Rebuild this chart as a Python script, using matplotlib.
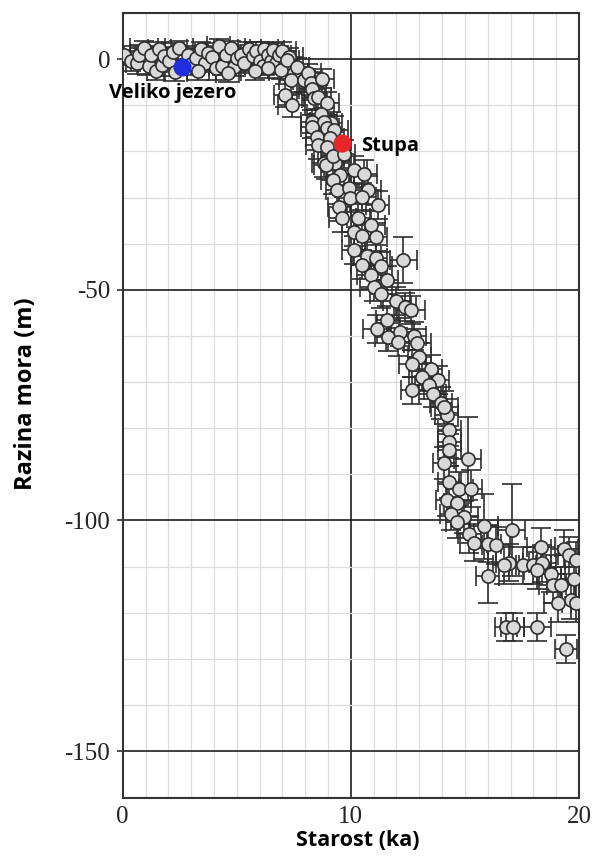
import numpy as np
import matplotlib; matplotlib.use("Agg"); import matplotlib.pyplot as plt

plt.rcParams["axes.unicode_minus"] = False

# sea-level index points (age in ka, relative sea level in m) with 1-sigma errors
age = [0.06, 0.35, 0.64, 0.72, 0.93, 1.15, 1.23, 1.45, 1.60, 1.74,
       1.81, 2.05, 2.20, 2.47, 2.84, 3.00, 3.20, 3.42, 3.60, 3.75,
       3.93, 4.08, 4.20, 4.37, 4.52, 4.74, 4.88, 5.00, 5.18, 5.32,
       5.54, 5.69, 5.85, 6.00, 6.13, 6.20, 6.35, 6.50, 6.57, 6.71,
       6.86, 7.00, 7.10, 7.30, 2.30, 4.60, 5.80, 3.30,
       6.35, 6.93, 7.22, 7.51, 7.37, 7.66, 7.95, 8.10, 8.25, 8.31,
       7.12, 7.41, 8.38, 8.74, 8.54, 8.97, 8.68, 9.12, 8.30, 8.81,
       8.31, 8.96, 9.27, 8.52, 9.10, 8.54, 8.97, 8.81, 9.32, 8.90,
       9.54, 10.12, 10.56, 9.20, 9.40, 9.91, 10.73, 9.98, 10.49, 11.17,
       9.49, 9.63, 10.33, 10.88, 10.12, 10.50, 11.10, 10.12, 10.70, 11.10,
       12.30, 11.32, 10.51, 10.88, 11.57, 11.00, 11.32, 12.00, 12.37, 12.63,
       11.60, 11.15, 12.17, 11.65, 12.78, 12.92, 12.05, 9.20, 9.70,
       13.00, 12.70, 13.50, 13.14, 13.80, 13.43, 12.70, 13.58, 14.20, 14.31,
       14.31, 14.31, 15.12, 14.09, 14.31, 14.75, 15.26, 14.23, 14.67, 14.39,
       14.97, 14.67, 15.84, 17.05, 15.19, 15.38, 16.00, 16.36, 16.95, 16.73,
       17.53, 17.97, 18.40, 18.18, 18.77, 16.00, 19.80, 18.84, 19.21, 19.65,
       19.07, 19.87, 18.33, 19.36, 19.58, 19.87, 16.80, 17.09, 18.18, 19.43,
       13.95, 14.10]
rsl = [0.8, -0.5, -0.8, 1.0, 2.4, -1.5, 0.9, -2.5, 2.2, -1.2,
       0.6, -0.3, 1.5, 2.5, 0.8, -1.0, 0.3, 2.2, -0.8, 1.4,
       0.5, -2.0, 2.8, -1.5, 0.8, 2.4, -1.6, 0.2, 1.0, -0.9,
       2.3, 0.6, 1.8, -0.5, -1.5, 2.2, 0.9, -0.3, 2.0, -0.8,
       0.8, 1.8, -1.2, 0.5, -2.8, -3.0, -2.5, -2.6,
       -2.0, -2.4, -0.2, -3.1, -4.6, -1.7, -4.6, -3.1, -5.2, -6.4,
       -7.8, -10.0, -8.5, -4.2, -8.2, -9.6, -11.8, -13.9, -13.6, -13.6,
       -14.7, -15.0, -15.4, -16.8, -17.2, -18.6, -19.0, -22.6, -22.6, -23.0,
       -25.1, -24.1, -24.8, -26.2, -28.4, -28.0, -28.4, -30.2, -29.8, -31.6,
       -32.0, -34.5, -34.5, -36.0, -37.4, -38.3, -38.5, -41.4, -42.7, -43.2,
       -43.6, -44.8, -44.7, -46.8, -47.9, -49.4, -51.0, -52.4, -53.8, -54.4,
       -56.6, -58.5, -59.2, -60.2, -60.0, -61.5, -61.3, -21.0, -20.5,
       -64.5, -66.0, -67.1, -68.9, -69.6, -70.7, -71.8, -72.5, -77.2, -80.3,
       -83.0, -84.8, -86.6, -87.6, -91.6, -93.1, -93.1, -95.6, -96.3, -98.5,
       -99.2, -100.3, -101.3, -102.0, -103.0, -104.8, -105.0, -105.4, -109.2, -109.7,
       -109.7, -109.7, -109.3, -110.8, -111.5, -112.0, -112.6, -114.0, -114.0, -117.3,
       -118.0, -118.0, -105.7, -106.1, -107.5, -108.6, -123.1, -123.1, -123.1, -127.8,
       -74.5, -75.5]
age_err = [0.5, 0.6, 0.5, 0.4, 0.6, 0.5, 0.6, 0.4, 0.5, 0.6,
           0.5, 0.6, 0.5, 0.6, 0.5, 0.6, 0.5, 0.6, 0.5, 0.6,
           0.5, 0.6, 0.5, 0.6, 0.5, 0.6, 0.5, 0.6, 0.5, 0.6,
           0.5, 0.6, 0.5, 0.6, 0.5, 0.6, 0.5, 0.6, 0.5, 0.6,
           0.5, 0.6, 0.5, 0.6, 0.5, 0.5, 0.6, 0.5,
           0.6, 0.5, 0.5, 0.6, 0.5, 0.5, 0.5, 0.6, 0.5, 0.6,
           0.5, 0.6, 0.5, 0.5, 0.6, 0.5, 0.6, 0.5, 0.5, 0.6,
           0.5, 0.5, 0.6, 0.5, 0.6, 0.5, 0.6, 0.5, 0.6, 0.5,
           0.6, 0.6, 0.6, 0.5, 0.5, 0.6, 0.6, 0.5, 0.6, 0.5,
           0.5, 0.6, 0.5, 0.6, 0.5, 0.6, 0.5, 0.5, 0.6, 0.5,
           0.6, 0.5, 0.5, 0.6, 0.5, 0.6, 0.5, 0.6, 0.5, 0.6,
           0.5, 0.6, 0.5, 0.6, 0.5, 0.6, 0.5, 0.5, 0.5,
           0.5, 0.6, 0.5, 0.6, 0.5, 0.6, 0.5, 0.6, 0.5, 0.5,
           0.5, 0.5, 0.6, 0.5, 0.5, 0.6, 0.5, 0.5, 0.6, 0.5,
           0.6, 0.5, 0.6, 0.6, 0.5, 0.6, 0.6, 0.6, 0.6, 0.5,
           0.6, 0.6, 0.6, 0.6, 0.6, 0.5, 0.6, 0.6, 0.6, 0.5,
           0.6, 0.6, 0.6, 0.6, 0.5, 0.5, 0.5, 0.5, 0.6, 0.5,
           0.5, 0.6]
rsl_err = [2.0, 2.0, 2.5, 2.0, 1.5, 2.0, 2.0, 2.0, 1.5, 2.5,
           2.0, 2.0, 2.0, 1.5, 2.0, 2.5, 2.0, 1.5, 2.0, 2.0,
           2.0, 2.5, 1.5, 2.0, 2.0, 1.5, 2.0, 2.0, 2.0, 2.0,
           1.5, 2.0, 2.0, 2.0, 2.0, 1.5, 2.0, 2.0, 1.5, 2.0,
           2.0, 2.0, 2.0, 2.0, 2.0, 2.0, 2.0, 2.0,
           2.0, 2.0, 2.0, 2.0, 2.5, 2.0, 2.5, 2.0, 2.5, 2.5,
           2.5, 2.5, 2.5, 2.0, 2.5, 2.5, 2.5, 2.5, 2.5, 3.0,
           2.5, 3.0, 3.0, 3.0, 3.0, 3.0, 3.0, 3.0, 3.0, 3.0,
           3.0, 3.0, 3.0, 3.0, 3.0, 3.0, 3.0, 3.0, 3.0, 3.0,
           3.0, 3.0, 3.0, 3.0, 3.0, 3.0, 3.0, 3.0, 3.0, 3.0,
           5.0, 3.0, 3.0, 3.0, 3.0, 3.0, 3.0, 3.0, 3.0, 3.0,
           3.0, 3.0, 3.0, 3.0, 3.0, 3.0, 3.0, 3.0, 3.0,
           3.0, 3.0, 3.0, 3.0, 3.0, 3.0, 3.0, 3.0, 3.5, 3.5,
           3.5, 3.5, 9.0, 3.5, 3.5, 3.5, 4.0, 3.5, 3.5, 3.5,
           3.5, 3.5, 7.0, 10.0, 4.0, 4.0, 4.0, 4.0, 4.0, 4.0,
           4.0, 4.0, 4.0, 4.0, 4.0, 6.0, 4.0, 4.0, 4.0, 4.0,
           4.0, 4.0, 4.0, 4.0, 4.0, 4.0, 3.0, 3.0, 3.0, 3.0,
           3.5, 3.5]

sites = ["Veliko jezero", "Stupa"]
site_age = [2.62, 9.63]
site_rsl = [-1.8, -18.3]
site_col = ["#1f2fe0", "#e8262a"]

fig = plt.figure(figsize=(5.92, 8.56), dpi=100)
ax = fig.add_axes([0.2073, 0.0681, 0.7707, 0.9167])

ax.errorbar(age, rsl, xerr=age_err, yerr=rsl_err, fmt="o", ms=9.5, mfc="#d9d9d9",
            mec="#2e2e2e", mew=1.2, ecolor="#2e2e2e", elinewidth=1.2, capsize=7,
            capthick=1.2, zorder=3)
ax.scatter(site_age, site_rsl, s=170, c=site_col, edgecolors="none", zorder=5)
ax.text(2.2, -7.4, sites[0], ha="center", va="center", fontsize=14.5,
        fontweight="bold", family="Open Sans", zorder=6)
ax.text(10.45, -18.9, sites[1], ha="left", va="center", fontsize=14.5,
        fontweight="bold", family="Open Sans", zorder=6)

ax.set_xlim(0, 20); ax.set_ylim(-160.1, 10)
ax.set_axisbelow(True)
ax.set_xticks([0, 10, 20]); ax.set_yticks([0, -50, -100, -150])
ax.set_xticks(np.arange(0, 21, 1), minor=True)
ax.set_yticks(np.arange(-160, 11, 10), minor=True)
ax.grid(which="minor", color="#dcdcdc", lw=0.9)
ax.grid(which="major", color="#1e1e1e", lw=1.2)
ax.tick_params(axis="both", which="major", labelsize=18, labelcolor="#222222",
               labelfontfamily="Liberation Serif")
ax.tick_params(axis="x", which="both", length=0, pad=6)
ax.tick_params(axis="y", which="major", length=4, width=1.2, color="#333333", pad=5)
ax.tick_params(axis="y", which="minor", length=0)
for s in ax.spines.values():
    s.set_color("#333333"); s.set_linewidth(1.5)

ax.set_xlabel("Starost (ka)", fontsize=15.5, fontweight="bold", family="Open Sans")
ax.set_ylabel("Razina mora (m)", fontsize=17, fontweight="bold", family="Open Sans")
ax.xaxis.set_label_coords(0.516, -0.041)
ax.yaxis.set_label_coords(-0.186, 0.515)

fig.savefig("out.png", dpi=100)
